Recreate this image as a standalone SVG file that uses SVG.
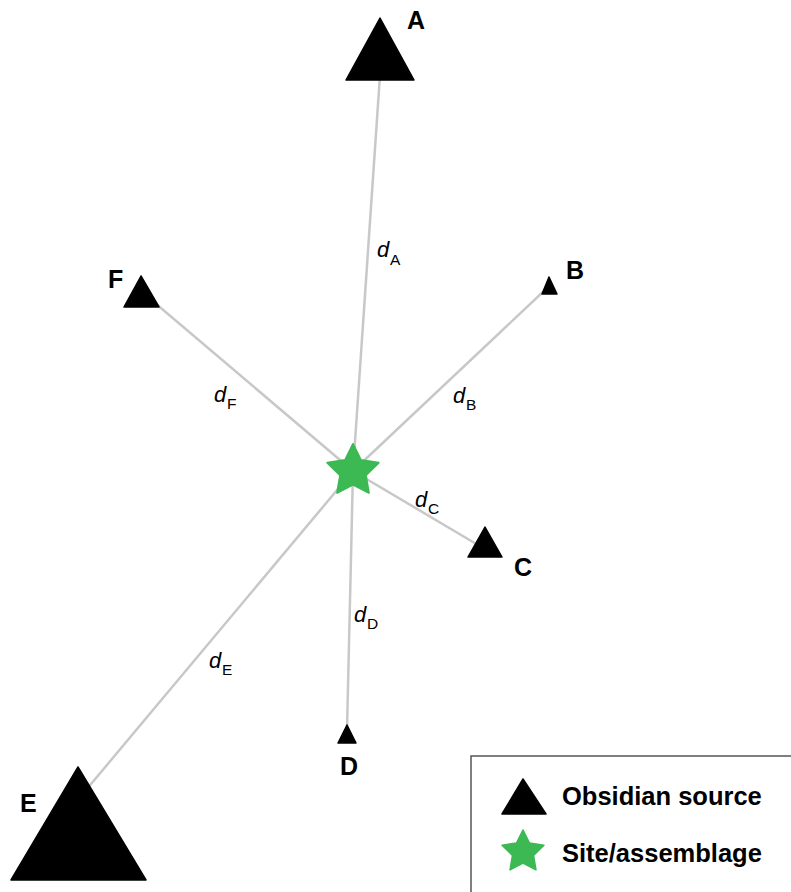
<svg xmlns="http://www.w3.org/2000/svg" xmlns:xlink="http://www.w3.org/1999/xlink" width="791" height="892" viewBox="0 0 791 892">
<style>
.conn{stroke:#c8c8c8;stroke-width:2.5;fill:none;stroke-linecap:round}
.src{fill:#000;stroke:#000;stroke-width:1.5;stroke-linejoin:round}
.lbl{font-family:"Liberation Sans",Arial,sans-serif;font-weight:bold;font-size:25px;fill:#000}
.dl{font-family:"Liberation Sans",Arial,sans-serif;font-style:italic;font-size:22px;fill:#000}
.sub{font-family:"Liberation Sans",Arial,sans-serif;font-size:15.5px;fill:#000}
.leg{font-family:"Liberation Sans",Arial,sans-serif;font-weight:bold;font-size:25.5px;fill:#000}
.site{fill:#3cb953;stroke:#3cb953;stroke-width:2;stroke-linejoin:round}
</style>
<defs>
<path id="star" d="M0,-27 L7.94,-10.92 L25.68,-8.34 L12.84,4.17 L15.87,21.84 L0,13.5 L-15.87,21.84 L-12.84,4.17 L-25.68,-8.34 L-7.94,-10.92 Z"/>
</defs>
<rect width="791" height="892" fill="#fff"/>
<g id="connectors">
<line class="conn" x1="353" y1="471" x2="380" y2="75"/>
<line class="conn" x1="353" y1="471" x2="545" y2="290"/>
<line class="conn" x1="353" y1="471" x2="478" y2="545"/>
<line class="conn" x1="353" y1="471" x2="347" y2="730"/>
<line class="conn" x1="353" y1="471" x2="86" y2="790"/>
<line class="conn" x1="353" y1="471" x2="155" y2="303"/>
</g>
<g id="distance-labels">
<g id="dA"><text class="dl" x="377" y="257">d</text><text class="sub" x="390" y="265">A</text></g>
<g id="dB"><text class="dl" x="453" y="403">d</text><text class="sub" x="466" y="410">B</text></g>
<g id="dC"><text class="dl" x="415" y="507">d</text><text class="sub" x="428" y="514">C</text></g>
<g id="dD"><text class="dl" x="354" y="622">d</text><text class="sub" x="367" y="629">D</text></g>
<g id="dE"><text class="dl" x="209" y="668">d</text><text class="sub" x="222" y="675">E</text></g>
<g id="dF"><text class="dl" x="214" y="402">d</text><text class="sub" x="227" y="409">F</text></g>
</g>
<g id="A"><polygon class="src" points="380,18 346,80 414,80"/><text class="lbl" x="407" y="29">A</text></g>
<g id="B"><polygon class="src" points="549,277 542,294 557,294"/><text class="lbl" x="566" y="279">B</text></g>
<g id="C"><polygon class="src" points="485,527 468,557 502,557"/><text class="lbl" x="514" y="576">C</text></g>
<g id="D"><polygon class="src" points="347,725 338,743 356,743"/><text class="lbl" x="340" y="775">D</text></g>
<g id="E"><polygon class="src" points="78,767 11,880 146,880"/><text class="lbl" x="20" y="812">E</text></g>
<g id="F"><polygon class="src" points="141,276 124,307 159,307"/><text class="lbl" x="108" y="288">F</text></g>
<g id="site"><use xlink:href="#star" href="#star" class="site" transform="translate(353,471)"/></g>
<g id="legend">
<rect x="471" y="756" width="400" height="200" fill="#fff" stroke="#555" stroke-width="1.5"/>
<polygon class="src" points="523,779 502,814 546,814"/>
<text class="leg" x="562" y="805">Obsidian source</text>
<use xlink:href="#star" href="#star" class="site" transform="translate(523,852) scale(0.815)"/>
<text class="leg" x="562" y="862">Site/assemblage</text>
</g>
</svg>
